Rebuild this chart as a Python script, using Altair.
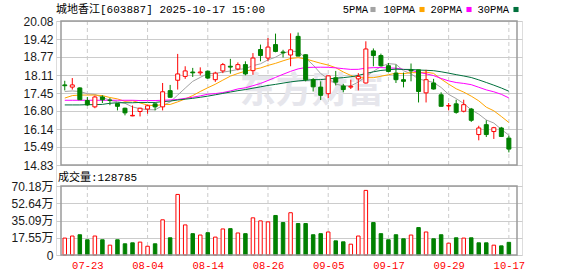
import json
import altair as alt
import pandas as pd

# ---------------- data ----------------
dates = ["07-18", "07-21", "07-22", "07-23", "07-24", "07-25", "07-28", "07-29", "07-30", "07-31",
         "08-01", "08-04", "08-05", "08-06", "08-07", "08-08", "08-11", "08-12", "08-13", "08-14",
         "08-15", "08-18", "08-19", "08-20", "08-21", "08-22", "08-25", "08-26", "08-27", "08-28",
         "08-29", "09-01", "09-02", "09-03", "09-04", "09-05", "09-08", "09-09", "09-10", "09-11",
         "09-12", "09-15", "09-16", "09-17", "09-18", "09-19", "09-22", "09-23", "09-24", "09-25",
         "09-26", "09-29", "09-30", "10-09", "10-10", "10-13", "10-14", "10-15", "10-16", "10-17"]

opens = [17.75, 17.67, 17.64, 17.18, 16.95, 17.31, 17.20, 17.07, 16.90, 16.62,
         16.78, 16.87, 17.06, 16.95, 17.54, 17.92, 18.06, 18.22, 18.19, 18.25,
         17.94, 18.26, 18.43, 18.33, 18.49, 18.27, 19.04, 18.73, 19.22, 18.95,
         18.84, 19.52, 18.85, 17.94, 17.67, 17.43, 18.01, 17.71, 17.67, 17.97,
         17.82, 18.99, 18.82, 18.45, 18.18, 17.94, 18.29, 18.30, 17.46, 17.82,
         17.39, 16.98, 17.06, 16.79, 16.87, 15.94, 16.30, 16.05, 16.18, 15.81]
highs = [17.90, 18.00, 17.66, 17.31, 17.36, 17.37, 17.27, 17.09, 16.92, 17.00,
         16.92, 17.03, 17.07, 17.82, 17.75, 18.88, 18.43, 18.37, 18.39, 18.27,
         18.23, 18.55, 18.70, 18.57, 18.61, 18.91, 19.22, 19.46, 19.62, 19.03,
         19.63, 19.66, 18.86, 18.00, 17.88, 18.09, 18.26, 17.79, 17.94, 18.18,
         19.34, 19.08, 18.89, 18.55, 18.49, 18.20, 18.53, 18.30, 18.30, 17.97,
         17.48, 17.09, 17.21, 17.21, 16.91, 16.26, 16.46, 16.22, 16.22, 15.90]
lows = [17.55, 17.58, 17.20, 16.99, 16.90, 17.09, 17.01, 16.82, 16.64, 16.61,
        16.60, 16.70, 16.82, 16.82, 17.29, 17.58, 17.97, 18.04, 18.10, 17.97,
        17.86, 18.18, 18.16, 18.28, 18.10, 18.12, 18.61, 18.61, 18.94, 18.75,
        18.43, 18.80, 17.88, 17.51, 17.20, 17.27, 17.73, 17.48, 17.60, 17.55,
        17.80, 18.43, 18.43, 18.21, 17.82, 17.66, 17.88, 17.11, 17.11, 17.58,
        16.97, 16.82, 16.70, 16.75, 16.40, 15.73, 15.85, 15.78, 15.85, 15.29]
closes = [17.72, 17.75, 17.21, 17.02, 17.31, 17.21, 17.18, 16.97, 16.73, 16.64,
          16.90, 16.99, 16.95, 17.50, 17.30, 18.15, 18.26, 18.19, 18.22, 18.00,
          18.18, 18.49, 18.40, 18.49, 18.15, 18.73, 18.82, 19.13, 18.97, 18.92,
          19.03, 18.80, 17.94, 17.68, 17.37, 18.08, 17.85, 17.58, 17.70, 18.06,
          19.06, 18.82, 18.45, 18.24, 17.94, 17.88, 18.26, 17.51, 17.94, 17.60,
          16.97, 17.00, 16.75, 17.03, 16.46, 16.18, 15.94, 16.19, 15.87, 15.41]
# volume in 万 (10k lots)
volumes = [17.2, 19.3, 20.6, 15.5, 19.3, 15.5, 10.0, 15.5, 11.4, 12.4,
           13.1, 8.9, 11.4, 35.8, 17.5, 61.6, 30.6, 21.7, 20.3, 22.7,
           18.2, 26.5, 26.8, 22.4, 21.7, 37.8, 34.7, 33.7, 40.2, 33.0,
           43.0, 32.0, 32.0, 20.6, 21.7, 23.4, 14.4, 13.4, 11.0, 19.3,
           65.7, 33.0, 21.7, 15.5, 20.6, 16.5, 20.3, 27.9, 23.4, 16.5,
           20.6, 12.0, 17.5, 17.2, 17.5, 12.4, 12.4, 10.0, 9.3, 12.88]
# 1 = red (close above previous close), 0 = green
vol_up = [1, 1, 0, 0, 1, 0, 1, 0, 0, 0,
          1, 1, 0, 1, 0, 1, 1, 0, 1, 0,
          1, 1, 0, 1, 0, 1, 1, 1, 0, 0,
          1, 0, 0, 0, 0, 1, 0, 0, 1, 1,
          1, 0, 0, 0, 0, 0, 1, 0, 1, 0,
          0, 1, 0, 1, 0, 0, 0, 1, 0, 0]

# moving-average values at the start of the window (history before 07-18 not shown)
ma5_head = [17.51, 17.53, 17.51, 17.43]
ma10_head = [17.27, 17.36, 17.38, 17.38, 17.38, 17.36, 17.29, 17.24, 17.15]
ma20_head = [17.19, 17.19, 17.19, 17.19, 17.19, 17.19, 17.19, 17.19, 17.19, 17.19,
             17.18, 17.18, 17.18, 17.19, 17.20, 17.22, 17.26, 17.30, 17.35]
ma30_head = [17.02, 17.02, 17.02, 17.03, 17.03, 17.04, 17.08, 17.10, 17.10, 17.10,
             17.11, 17.11, 17.11, 17.14, 17.16, 17.20, 17.23, 17.26, 17.30, 17.34,
             17.39, 17.44, 17.49, 17.54, 17.58, 17.63, 17.68, 17.73, 17.77]

price_ticks = [14.83, 15.49, 16.14, 16.80, 17.45, 18.11, 18.77, 19.42, 20.08]
vol_ticks = [0, 17.55, 35.09, 52.64, 70.18]
label_idx = [3, 11, 19, 27, 35, 43, 51, 59]
ma_names = ["5PMA", "10PMA", "20PMA", "30PMA"]
ma_colors = ["#a3a3a3", "#ffa500", "#ff00ff", "#00703c"]
title_text = "城地香江[603887] 2025-10-17 15:00"
vol_text = "成交量:128785"
watermark = "东方财富"

# ---------------- tables ----------------
n = len(dates)
df = pd.DataFrame({"i": list(range(n)), "date": dates, "open": opens, "high": highs,
                   "low": lows, "close": closes, "vol": volumes})
df["dir"] = ["u" if c >= o else "d" for o, c in zip(opens, closes)]
df["vdir"] = ["u" if v else "d" for v in vol_up]


def ma(win, head):
    s = df["close"].rolling(win).mean().tolist()
    return head + s[win - 1:]


ma_frames = []
for name, win, head in zip(ma_names, [5, 10, 20, 30], [ma5_head, ma10_head, ma20_head, ma30_head]):
    ma_frames.append(pd.DataFrame({"i": list(range(n)), "value": ma(win, head), "series": name}))
ma_df = pd.concat(ma_frames, ignore_index=True)

X_DOMAIN = [-0.5, 60.08]
P_DOMAIN = [price_ticks[0], price_ticks[-1]]
V_DOMAIN = [vol_ticks[0], vol_ticks[-1]]

grid_df = pd.DataFrame({"i": label_idx, "ptop": P_DOMAIN[1], "pbot": P_DOMAIN[0],
                        "vtop": V_DOMAIN[1], "vbot": V_DOMAIN[0]})
frame_df = pd.DataFrame({"xl": [X_DOMAIN[0]], "xr": [X_DOMAIN[1]], "ptop": [P_DOMAIN[1]],
                         "pbot": [P_DOMAIN[0]], "vtop": [V_DOMAIN[1]], "vbot": [V_DOMAIN[0]]})
wm_df = pd.DataFrame({"wx": [32.8], "wy": [17.50], "t": [watermark]})

RED = "#ff0000"
GREEN = "#008000"
GRID = "#cccccc"
FRAME = "#9a9a9a"
MONO_CJK = "'Liberation Mono', 'Noto Sans CJK SC'"
SANS_CJK = "'Liberation Sans', 'Noto Sans CJK SC'"

x_axis = alt.Axis(values=label_idx, labelExpr=f"{json.dumps(dates)}[datum.value]",
                  grid=False, ticks=False, domain=False, labelColor=RED,
                  labelFont="Liberation Mono", labelFontSize=10.5, labelPadding=5,
                  labelFlush=False, labelAngle=0, title=None)
x_scale = alt.Scale(domain=X_DOMAIN, nice=False, zero=False)


def X(field="i"):
    return alt.X(f"{field}:Q", scale=x_scale, axis=x_axis)


p_scale = alt.Scale(domain=P_DOMAIN, range=[144, 0], nice=False, zero=False)
p_axis = alt.Axis(orient="left", values=price_ticks, format=".2f", grid=True, gridColor=GRID,
                  gridWidth=1, ticks=False, domain=False, labelFont="Liberation Sans",
                  labelFontSize=12, labelColor="#1a1a1a", labelPadding=3, labelFlush=False,
                  title=None)
v_scale = alt.Scale(domain=V_DOMAIN, range=[234, 165], nice=False, zero=True)
v_axis = alt.Axis(orient="left", values=vol_ticks,
                  labelExpr="datum.value == 0 ? '0' : format(datum.value, '.2f') + '万'",
                  grid=True, gridColor=GRID, gridWidth=1, ticks=False, domain=False,
                  labelFont=SANS_CJK, labelFontSize=12, labelColor="#1a1a1a", labelPadding=3,
                  labelFlush=False, title=None)


def PY(field):
    return alt.Y(f"{field}:Q", scale=p_scale, axis=p_axis)


def VY(field):
    return alt.Y(f"{field}:Q", scale=v_scale, axis=v_axis)


dir_fill = alt.Scale(domain=["u", "d"], range=["#ffffff", GREEN])
dir_stroke = alt.Scale(domain=["u", "d"], range=[RED, GREEN])

# ---------------- price panel ----------------
p_vgrid = alt.Chart(grid_df).mark_rule(color=GRID, strokeWidth=1, strokeDash=[4, 3]).encode(
    x=X(), y=PY("ptop"), y2="pbot")
p_wm = alt.Chart(wm_df).mark_text(font="Noto Sans CJK SC", fontSize=36, fontWeight="bold",
                                  color="#e6e6ec", align="center", baseline="middle").encode(
    x=X("wx"), y=PY("wy"), text="t:N")
wicks = alt.Chart(df).mark_rule(strokeWidth=1).encode(
    x=X(), y=PY("low"), y2="high",
    stroke=alt.Stroke("dir:N", scale=dir_stroke, legend=None))
bodies = alt.Chart(df).mark_bar(size=4, strokeWidth=1).encode(
    x=X(), y=PY("open"), y2="close",
    fill=alt.Fill("dir:N", scale=dir_fill, legend=None),
    stroke=alt.Stroke("dir:N", scale=dir_stroke, legend=None))
lines = alt.Chart(ma_df).mark_line(strokeWidth=1).encode(
    x=X(), y=PY("value"),
    color=alt.Color("series:N", scale=alt.Scale(domain=ma_names, range=ma_colors), legend=None),
    order="i:Q")
p_frame = alt.Chart(frame_df).mark_rect(fillOpacity=0, stroke=FRAME, strokeWidth=1.5).encode(
    x=X("xl"), x2="xr", y=PY("ptop"), y2="pbot")

header_layers = [
    alt.Chart(pd.DataFrame({"t": [title_text]})).mark_text(
        font=MONO_CJK, fontSize=11, color="#000", align="left", baseline="middle").encode(
        x=alt.value(0), y=alt.value(-11.5), text="t:N")
]
text_right = [312, 359, 406, 453]
sq_center = [317, 366, 413, 460]
for name, col, tx, sx in zip(ma_names, ma_colors, text_right, sq_center):
    d = pd.DataFrame({"t": [name]})
    header_layers.append(alt.Chart(d).mark_text(
        font="Liberation Mono", fontSize=10.5, color="#000", align="right",
        baseline="middle").encode(x=alt.value(tx), y=alt.value(-11.5), text="t:N"))
    header_layers.append(alt.Chart(d).mark_square(size=26, color=col, opacity=1).encode(
        x=alt.value(sx), y=alt.value(-11.5)))

price = alt.layer(p_vgrid, p_wm, lines, wicks, bodies, p_frame, *header_layers)

# ---------------- volume panel ----------------
v_vgrid = alt.Chart(grid_df).mark_rule(color=GRID, strokeWidth=1, strokeDash=[4, 3]).encode(
    x=X(), y=VY("vtop"), y2="vbot")
vbars = alt.Chart(df).mark_bar(size=3.5, strokeWidth=1).encode(
    x=X(), y=VY("vol"),
    fill=alt.Fill("vdir:N", scale=dir_fill, legend=None),
    stroke=alt.Stroke("vdir:N", scale=dir_stroke, legend=None))
v_frame = alt.Chart(frame_df).mark_rect(fillOpacity=0, stroke=FRAME, strokeWidth=1.5).encode(
    x=X("xl"), x2="xr", y=VY("vtop"), y2="vbot")
v_label = alt.Chart(pd.DataFrame({"t": [vol_text]})).mark_text(
    font=MONO_CJK, fontSize=11, color="#000", align="left", baseline="middle").encode(
    x=alt.value(2), y=alt.value(157), text="t:N")

volume = alt.layer(v_vgrid, vbars, v_frame, v_label)

chart = alt.layer(price, volume).resolve_scale(y="independent").properties(
    width=466, height=234,
    autosize=alt.AutoSizeParams(type="none"),
    padding={"left": 56, "top": 21, "right": 56, "bottom": 21},
).configure_view(stroke=None).configure(background="#ffffff")

chart.save("out.html", embed_options={"renderer": "svg", "actions": False})
